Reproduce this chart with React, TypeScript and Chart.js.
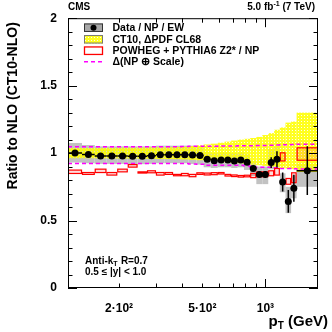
import React, { useEffect, useRef } from "react";
import { Chart, registerables } from "chart.js";

Chart.register(...registerables);

// pT bin edges (GeV)
const binEdges = [114, 133, 153, 174, 196, 220, 245, 272, 300, 330, 362, 395, 430, 468, 507, 548, 592, 638, 686, 737, 790, 846, 905, 967, 1032, 1101, 1172, 1248, 1327, 1410, 1784];

// Data / NP / EW ratio to NLO
const dataRatio = [1.0, 0.99, 0.978, 0.978, 0.978, 0.976, 0.976, 0.98, 0.988, 0.988, 0.988, 0.988, 0.985, 0.982, 0.954, 0.944, 0.949, 0.949, 0.942, 0.949, 0.932, 0.886, 0.842, 0.842, 0.93, 0.954, 0.786, 0.642, 0.74, 0.87];
const dataStat = [0.004, 0.004, 0.004, 0.004, 0.004, 0.004, 0.004, 0.004, 0.005, 0.005, 0.005, 0.005, 0.006, 0.006, 0.006, 0.007, 0.007, 0.008, 0.009, 0.01, 0.012, 0.015, 0.02, 0.025, 0.04, 0.06, 0.07, 0.085, 0.1, 0.18];
const sysLow = [0.93, 0.925, 0.92, 0.92, 0.92, 0.918, 0.918, 0.92, 0.925, 0.925, 0.925, 0.925, 0.92, 0.915, 0.895, 0.89, 0.895, 0.895, 0.89, 0.895, 0.875, 0.83, 0.77, 0.77, 0.88, 0.895, 0.71, 0.555, 0.665, 0.75];
const sysHigh = [1.075, 1.06, 1.05, 1.05, 1.05, 1.05, 1.05, 1.05, 1.055, 1.055, 1.055, 1.055, 1.055, 1.05, 1.01, 1.0, 1.005, 1.005, 1.0, 1.005, 0.99, 0.94, 0.9, 0.9, 1.03, 1.05, 0.85, 0.75, 0.835, 0.92];

// CT10 PDF uncertainty (CL68)
const pdfLow = [0.962, 0.962, 0.962, 0.961, 0.96, 0.96, 0.959, 0.958, 0.957, 0.956, 0.955, 0.953, 0.95, 0.947, 0.944, 0.94, 0.936, 0.932, 0.928, 0.924, 0.92, 0.915, 0.91, 0.905, 0.9, 0.895, 0.89, 0.885, 0.88, 0.86];
const pdfHigh = [1.038, 1.038, 1.038, 1.039, 1.04, 1.04, 1.041, 1.042, 1.042, 1.043, 1.045, 1.047, 1.052, 1.058, 1.064, 1.07, 1.077, 1.085, 1.093, 1.1, 1.106, 1.112, 1.12, 1.134, 1.148, 1.173, 1.19, 1.226, 1.234, 1.3];

// NP (+) scale uncertainty
const npScaleLow = [0.922, 0.922, 0.922, 0.922, 0.922, 0.922, 0.922, 0.922, 0.922, 0.922, 0.922, 0.922, 0.92, 0.918, 0.91, 0.91, 0.91, 0.91, 0.91, 0.91, 0.905, 0.895, 0.895, 0.895, 0.895, 0.892, 0.886, 0.886, 0.884, 0.882];
const npScaleHigh = [1.047, 1.047, 1.047, 1.047, 1.047, 1.047, 1.047, 1.047, 1.047, 1.047, 1.047, 1.048, 1.05, 1.05, 1.05, 1.051, 1.052, 1.052, 1.053, 1.054, 1.055, 1.055, 1.056, 1.057, 1.058, 1.06, 1.061, 1.062, 1.063, 1.066];

// POWHEG + PYTHIA6 Z2* / NP
const powhegLow = [0.849, 0.842, 0.856, 0.837, 0.861, 0.896, 0.852, 0.854, 0.837, 0.842, 0.832, 0.832, 0.825, 0.842, 0.838, 0.84, 0.845, 0.83, 0.826, 0.822, 0.824, 0.818, 0.825, 0.825, 0.832, 0.837, 0.942, 0.769, 0.781, 0.947];
const powhegHigh = [0.874, 0.856, 0.881, 0.856, 0.881, 0.915, 0.861, 0.869, 0.856, 0.856, 0.842, 0.849, 0.842, 0.854, 0.852, 0.855, 0.856, 0.842, 0.838, 0.834, 0.836, 0.849, 0.861, 0.861, 0.869, 0.886, 1.002, 0.812, 0.854, 1.039];

const xTickValues = [200, 500, 1000];
const xTickLabels = ["2·10²", "5·10²", "10³"];
const xMinorTicks = [200, 300, 400, 500, 600, 700, 800, 900];
const xMajorTicks = [1000];
const yTickLabels: Record<string, string> = { "0": "0", "0.5": "0.5", "1": "1", "1.5": "1.5", "2": "2" };

const legendLabels = ["Data / NP / EW", "CT10, ΔPDF CL68", "POWHEG + PYTHIA6 Z2* / NP", "Δ(NP ⊕ Scale)"];

const FONT = "'Liberation Sans', Arial, Helvetica, sans-serif";

function makePattern(ctx: CanvasRenderingContext2D) {
  const tile = document.createElement("canvas");
  tile.width = 3;
  tile.height = 3;
  const t = tile.getContext("2d")!;
  t.fillStyle = "rgba(255,255,0,0.88)";
  t.fillRect(0, 0, 3, 3);
  t.clearRect(1, 1, 1, 1);
  t.fillStyle = "rgba(255,255,170,0.3)";
  t.fillRect(1, 1, 1, 1);
  return ctx.createPattern(tile, "repeat");
}

const cmsPlugin = {
  id: "cmsPlugin",
  beforeDatasetsDraw(chart: any) {
    const { ctx, chartArea: a } = chart;
    const xs = chart.scales.x;
    const ys = chart.scales.y;
    const px = (v: number) => xs.getPixelForValue(v);
    const py = (v: number) => ys.getPixelForValue(v);
    ctx.save();
    ctx.beginPath();
    ctx.rect(a.left, a.top, a.right - a.left, a.bottom - a.top);
    ctx.clip();

    // systematic (gray)
    ctx.fillStyle = "#c2c2c2";
    for (let i = 0; i < dataRatio.length; i++) {
      const x0 = px(binEdges[i]);
      const x1 = px(binEdges[i + 1]);
      const yT = py(sysHigh[i]);
      const yB = py(sysLow[i]);
      ctx.fillRect(x0, yT, x1 - x0, yB - yT);
    }
    // PDF (yellow hatched)
    const pat = makePattern(ctx);
    ctx.fillStyle = pat || "rgba(255,255,0,0.6)";
    for (let i = 0; i < pdfLow.length; i++) {
      const x0 = px(binEdges[i]);
      const x1 = px(binEdges[i + 1]);
      const yT = py(pdfHigh[i]);
      const yB = py(pdfLow[i]);
      ctx.fillRect(x0, yT, x1 - x0, yB - yT);
    }
    // NP + scale (magenta dashed)
    ctx.strokeStyle = "#ff00ff";
    ctx.lineWidth = 1.5;
    ctx.setLineDash([4, 3]);
    for (const arr of [npScaleLow, npScaleHigh]) {
      ctx.beginPath();
      ctx.moveTo(px(binEdges[0]), py(arr[0]));
      for (let i = 0; i < arr.length; i++) {
        ctx.lineTo(px(binEdges[i]), py(arr[i]));
        ctx.lineTo(px(binEdges[i + 1]), py(arr[i]));
      }
      ctx.stroke();
    }
    ctx.setLineDash([]);
    // POWHEG (red boxes)
    ctx.lineWidth = 1.2;
    ctx.strokeStyle = "#ff0000";
    ctx.fillStyle = "rgba(255,60,60,0.18)";
    for (let i = 0; i < powhegLow.length; i++) {
      const x0 = px(binEdges[i]);
      const x1 = px(binEdges[i + 1]);
      const yT = py(powhegHigh[i]);
      const yB = py(powhegLow[i]);
      ctx.fillRect(x0, yT, x1 - x0, yB - yT);
      ctx.strokeRect(x0 + 0.5, yT, x1 - x0 - 1, yB - yT);
    }
    // data error bars
    ctx.strokeStyle = "#000";
    ctx.lineWidth = 1.5;
    for (let i = 0; i < dataRatio.length; i++) {
      const x0 = px(binEdges[i]);
      const x1 = px(binEdges[i + 1]);
      const xc = px(Math.sqrt(binEdges[i] * binEdges[i + 1]));
      const yc = py(dataRatio[i]);
      ctx.beginPath();
      ctx.moveTo(x0, yc);
      ctx.lineTo(x1, yc);
      ctx.moveTo(xc, py(dataRatio[i] - dataStat[i]));
      ctx.lineTo(xc, py(dataRatio[i] + dataStat[i]));
      ctx.stroke();
    }
    ctx.restore();
  },
  afterDatasetsDraw(chart: any) {
    const { ctx, chartArea: a } = chart;
    const xs = chart.scales.x;
    const ys = chart.scales.y;
    ctx.save();
    // frame
    ctx.strokeStyle = "#000";
    ctx.lineWidth = 1;
    ctx.strokeRect(a.left + 0.5, a.top + 0.5, a.right - a.left - 1, a.bottom - a.top - 1);
    // y ticks
    for (let k = 0; k <= 20; k++) {
      const v = k / 10;
      const yp = Math.round(ys.getPixelForValue(v)) + 0.5;
      const len = k % 5 === 0 ? 9 : 4.5;
      ctx.beginPath();
      ctx.moveTo(a.left, yp);
      ctx.lineTo(a.left + len, yp);
      ctx.moveTo(a.right, yp);
      ctx.lineTo(a.right - len, yp);
      ctx.stroke();
    }
    // x ticks
    const drawX = (v: number, len: number) => {
      const xp = Math.round(xs.getPixelForValue(v)) + 0.5;
      ctx.beginPath();
      ctx.moveTo(xp, a.bottom);
      ctx.lineTo(xp, a.bottom - len);
      ctx.moveTo(xp, a.top);
      ctx.lineTo(xp, a.top + len);
      ctx.stroke();
    };
    xMinorTicks.forEach((v) => drawX(v, 4.5));
    xMajorTicks.forEach((v) => drawX(v, 9));

    // legend
    const lx0 = 84;
    const lx1 = 103;
    const rows = [27.7, 39.3, 50.7, 61.7];
    const bh = 8.5;
    // row 1: data
    ctx.fillStyle = "#a8a8a8";
    ctx.fillRect(lx0, rows[0] - bh / 2, lx1 - lx0, bh);
    ctx.strokeStyle = "#333";
    ctx.lineWidth = 1;
    ctx.strokeRect(lx0 + 0.5, rows[0] - bh / 2 + 0.5, lx1 - lx0 - 1, bh - 1);
    ctx.fillStyle = "#000";
    ctx.beginPath();
    ctx.arc((lx0 + lx1) / 2, rows[0], 3, 0, Math.PI * 2);
    ctx.fill();
    // row 2: pdf
    ctx.fillStyle = makePattern(ctx) || "yellow";
    ctx.fillRect(lx0, rows[1] - bh / 2, lx1 - lx0, bh);
    ctx.strokeStyle = "#777";
    ctx.strokeRect(lx0 + 0.5, rows[1] - bh / 2 + 0.5, lx1 - lx0 - 1, bh - 1);
    // row 3: powheg
    ctx.strokeStyle = "#ff0000";
    ctx.lineWidth = 1.3;
    ctx.strokeRect(lx0 + 0.5, rows[2] - bh / 2 + 0.5, lx1 - lx0 - 1, bh - 1);
    // row 4: dashed
    ctx.strokeStyle = "#ff00ff";
    ctx.lineWidth = 1.5;
    ctx.setLineDash([4, 3]);
    ctx.beginPath();
    ctx.moveTo(lx0, rows[3]);
    ctx.lineTo(lx1, rows[3]);
    ctx.stroke();
    ctx.setLineDash([]);

    ctx.fillStyle = "#000";
    ctx.textBaseline = "middle";
    ctx.textAlign = "left";
    ctx.font = `bold 10.5px ${FONT}`;
    legendLabels.forEach((t, i) => ctx.fillText(t, 112.5, rows[i] + 0.5));

    // header
    ctx.font = `bold 10px ${FONT}`;
    ctx.fillText("CMS", 68, 7.5);
    const p1 = "5.0 fb";
    const p2 = "-1";
    const p3 = " (7 TeV)";
    ctx.font = `bold 10px ${FONT}`;
    const w1 = ctx.measureText(p1).width;
    const w3 = ctx.measureText(p3).width;
    ctx.font = `bold 7px ${FONT}`;
    const w2 = ctx.measureText(p2).width;
    let hx = 315 - (w1 + w2 + w3);
    ctx.font = `bold 10px ${FONT}`;
    ctx.fillText(p1, hx, 7.5);
    hx += w1;
    ctx.font = `bold 7px ${FONT}`;
    ctx.fillText(p2, hx, 4.5);
    hx += w2;
    ctx.font = `bold 10px ${FONT}`;
    ctx.fillText(p3, hx, 7.5);

    // bottom-left annotation
    ctx.font = `bold 10px ${FONT}`;
    let ax = 85;
    ctx.fillText("Anti-k", ax, 261);
    ax += ctx.measureText("Anti-k").width;
    ctx.font = `bold 7px ${FONT}`;
    ctx.fillText("T", ax, 264);
    ax += ctx.measureText("T").width + 0.5;
    ctx.font = `bold 10px ${FONT}`;
    ctx.fillText(" R=0.7", ax, 261);
    ctx.fillText("0.5 ≤ |y| < 1.0", 85, 272);

    // x title
    ctx.textBaseline = "alphabetic";
    ctx.font = `bold 15px ${FONT}`;
    const tp = "p";
    const tr = " (GeV)";
    const wp = ctx.measureText(tp).width;
    const wr = ctx.measureText(tr).width;
    ctx.font = `bold 10px ${FONT}`;
    const wt = ctx.measureText("T").width;
    let tx = 328 - (wp + wt + wr);
    ctx.font = `bold 15px ${FONT}`;
    ctx.fillText(tp, tx, 326);
    tx += wp;
    ctx.font = `bold 10px ${FONT}`;
    ctx.fillText("T", tx, 329);
    tx += wt;
    ctx.font = `bold 15px ${FONT}`;
    ctx.fillText(tr, tx, 326);

    // y title
    ctx.save();
    ctx.translate(13, a.top + 4);
    ctx.rotate(-Math.PI / 2);
    ctx.textAlign = "right";
    ctx.textBaseline = "middle";
    ctx.font = `bold 14px ${FONT}`;
    ctx.fillText("Ratio to NLO (CT10-NLO)", 0, 0);
    ctx.restore();

    ctx.restore();
  },
};

export default function App() {
  const ref = useRef<HTMLCanvasElement | null>(null);
  useEffect(() => {
    document.body.style.margin = "0";
    const canvas = ref.current!;
    const points = dataRatio.map((v, i) => ({ x: Math.sqrt(binEdges[i] * binEdges[i + 1]), y: v }));
    const chart = new Chart(canvas, {
      type: "scatter",
      data: {
        datasets: [
          {
            label: legendLabels[0],
            data: points,
            pointRadius: 3.5,
            pointBackgroundColor: "#000",
            pointBorderWidth: 0,
            showLine: false,
          },
        ],
      },
      options: {
        animation: false,
        responsive: false,
        devicePixelRatio: 1,
        layout: { padding: { top: 14, right: 14, left: 0, bottom: 0 } },
        plugins: { legend: { display: false }, tooltip: { enabled: false } },
        scales: {
          x: {
            type: "logarithmic",
            min: binEdges[0],
            max: binEdges[binEdges.length - 1],
            grid: { display: false, drawTicks: false },
            border: { display: false },
            afterBuildTicks: (scale: any) => {
              scale.ticks = xTickValues.map((v) => ({ value: v }));
            },
            afterFit: (scale: any) => {
              scale.height = 44;
            },
            ticks: {
              autoSkip: false,
              maxRotation: 0,
              padding: 13,
              color: "#000",
              font: { family: FONT, weight: "bold", size: 12 },
              callback: (value: any) => {
                const idx = xTickValues.indexOf(Number(value));
                return idx >= 0 ? xTickLabels[idx] : "";
              },
            },
          },
          y: {
            min: 0,
            max: 2,
            grid: { display: false, drawTicks: false },
            border: { display: false },
            afterFit: (scale: any) => {
              scale.width = 68;
            },
            ticks: {
              stepSize: 0.5,
              padding: 11,
              color: "#000",
              font: { family: FONT, weight: "bold", size: 12 },
              callback: (value: any) => {
                const key = String(Math.round(Number(value) * 10) / 10);
                return yTickLabels[key] ?? key;
              },
            },
          },
        },
      },
      plugins: [cmsPlugin],
    });
    return () => chart.destroy();
  }, []);
  return (
    <div style={{ width: 332, height: 332 }}>
      <canvas ref={ref} width={332} height={332} style={{ display: "block", width: 332, height: 332 }} />
    </div>
  );
}
